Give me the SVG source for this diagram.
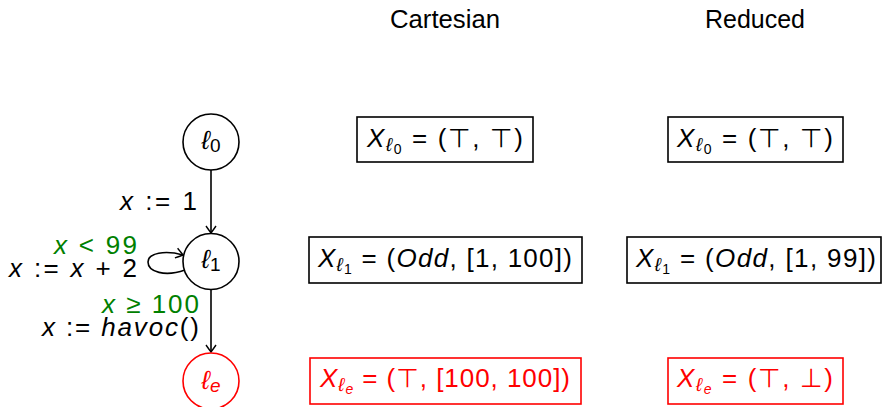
<svg xmlns="http://www.w3.org/2000/svg" width="883" height="407" viewBox="0 0 883 407">
<style>
text{font-family:"Liberation Sans","DejaVu Sans",sans-serif;fill:#000}
.i{font-style:italic}
.red{fill:#ff0000}
.grn{fill:#008000}
.node{fill:#fff;stroke:#000;stroke-width:1.6}
.node.r{stroke:#ff0000}
.box{fill:#fff;stroke:#000;stroke-width:1.6}
.box.r{stroke:#ff0000}
.edge{fill:none;stroke:#000;stroke-width:1.6}
</style>
<defs>
<marker id="arr" markerUnits="userSpaceOnUse" viewBox="-10 -7 12 14" refX="0" refY="0" markerWidth="12" markerHeight="14" orient="auto">
<path d="M -7 -5 Q -2 -1.5 0 0 Q -2 1.5 -7 5" fill="none" stroke="#000" stroke-width="1.4"/>
</marker>
</defs>

<g id="titles">
<text x="445" y="28" font-size="25" text-anchor="middle" textLength="110" lengthAdjust="spacingAndGlyphs">Cartesian</text>
<text x="755" y="28" font-size="25" text-anchor="middle" textLength="100" lengthAdjust="spacingAndGlyphs">Reduced</text>
</g>

<g id="connectors">
<path class="edge" d="M 211 170 L 211 233" marker-end="url(#arr)"/>
<path class="edge" d="M 211 290 L 211 352" marker-end="url(#arr)"/>
<path class="edge" d="M 185 270 C 165 277 148 272 148 262 C 148 253 165 250 183 255" marker-end="url(#arr)"/>
<text x="197" y="210" font-size="26" text-anchor="end" textLength="77" lengthAdjust="spacing"><tspan class="i">x</tspan> := 1</text>
<text class="grn" x="137" y="254" font-size="26" text-anchor="end" textLength="83" lengthAdjust="spacing"><tspan class="i">x</tspan> &lt; 99</text>
<text x="137" y="277" font-size="26" text-anchor="end" textLength="128" lengthAdjust="spacing"><tspan class="i">x</tspan> := <tspan class="i">x</tspan> + 2</text>
<text class="grn" x="199" y="313" font-size="26" text-anchor="end" textLength="97" lengthAdjust="spacing"><tspan class="i">x</tspan> ≥ 100</text>
<text x="199" y="336" font-size="26" text-anchor="end" textLength="157" lengthAdjust="spacing"><tspan class="i">x</tspan> := <tspan class="i">havoc</tspan>()</text>
</g>

<g id="l0">
<circle class="node" cx="211" cy="142" r="28"/>
<text x="211" y="149" font-size="26" text-anchor="middle"><tspan class="i">ℓ</tspan><tspan font-size="19" dy="3">0</tspan></text>
</g>
<g id="l1">
<circle class="node" cx="211" cy="261.5" r="28"/>
<text x="211" y="268" font-size="26" text-anchor="middle"><tspan class="i">ℓ</tspan><tspan font-size="19" dy="3">1</tspan></text>
</g>
<g id="le">
<circle class="node r" cx="211" cy="381" r="28"/>
<text class="red" x="211" y="389" font-size="26" text-anchor="middle"><tspan class="i">ℓ</tspan><tspan class="i" font-size="19" dy="3">e</tspan></text>
</g>

<g id="cart0">
<rect class="box" x="357" y="117" width="176" height="45"/>
<text x="445" y="147" font-size="26" text-anchor="middle" textLength="156" lengthAdjust="spacing"><tspan class="i">X</tspan><tspan class="i" font-size="19" dy="4">ℓ</tspan><tspan font-size="14" dy="3">0</tspan><tspan dy="-7"> = (⊤, ⊤)</tspan></text>
</g>
<g id="cart1">
<rect class="box" x="309" y="237" width="273" height="46"/>
<text x="445" y="267" font-size="26" text-anchor="middle" textLength="254" lengthAdjust="spacing"><tspan class="i">X</tspan><tspan class="i" font-size="19" dy="4">ℓ</tspan><tspan font-size="14" dy="3">1</tspan><tspan dy="-7"> = (</tspan><tspan class="i">Odd</tspan>, [1, 100])</text>
</g>
<g id="carte">
<rect class="box r" x="310" y="358" width="271" height="46"/>
<text class="red" x="445" y="387" font-size="26" text-anchor="middle" textLength="250" lengthAdjust="spacing"><tspan class="i">X</tspan><tspan class="i" font-size="19" dy="4">ℓ</tspan><tspan class="i" font-size="14" dy="3">e</tspan><tspan dy="-7"> = (⊤, [100, 100])</tspan></text>
</g>

<g id="red0">
<rect class="box" x="668" y="117" width="175" height="45"/>
<text x="755" y="147" font-size="26" text-anchor="middle" textLength="156" lengthAdjust="spacing"><tspan class="i">X</tspan><tspan class="i" font-size="19" dy="4">ℓ</tspan><tspan font-size="14" dy="3">0</tspan><tspan dy="-7"> = (⊤, ⊤)</tspan></text>
</g>
<g id="red1">
<rect class="box" x="627" y="237" width="254" height="46"/>
<text x="756" y="267" font-size="26" text-anchor="middle" textLength="240" lengthAdjust="spacing"><tspan class="i">X</tspan><tspan class="i" font-size="19" dy="4">ℓ</tspan><tspan font-size="14" dy="3">1</tspan><tspan dy="-7"> = (</tspan><tspan class="i">Odd</tspan>, [1, 99])</text>
</g>
<g id="rede">
<rect class="box r" x="668" y="358" width="175" height="46"/>
<text class="red" x="755" y="387" font-size="26" text-anchor="middle" textLength="156" lengthAdjust="spacing"><tspan class="i">X</tspan><tspan class="i" font-size="19" dy="4">ℓ</tspan><tspan class="i" font-size="14" dy="3">e</tspan><tspan dy="-7"> = (⊤, ⊥)</tspan></text>
</g>
</svg>
